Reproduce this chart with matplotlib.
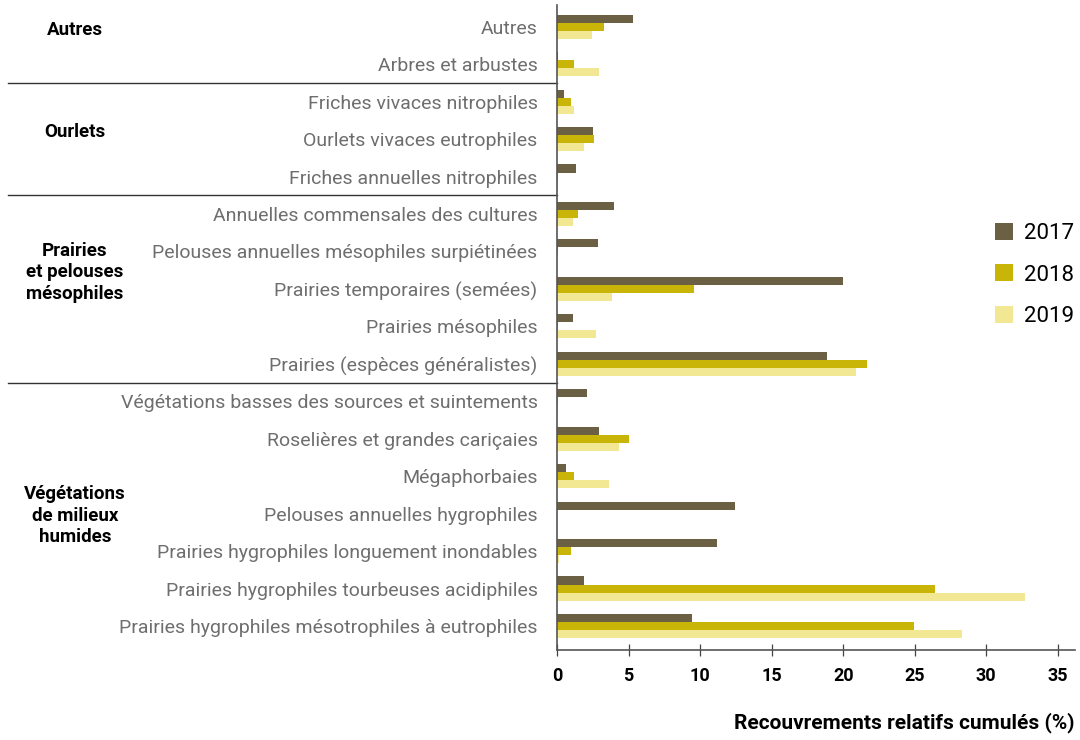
import numpy as np
import matplotlib
matplotlib.use('Agg')
import matplotlib.pyplot as plt
from matplotlib.transforms import blended_transform_factory

plt.rcParams['font.family'] = ['Roboto', 'DejaVu Sans']

# data
categories = [
    'Autres', 'Arbres et arbustes',
    'Friches vivaces nitrophiles', 'Ourlets vivaces eutrophiles', 'Friches annuelles nitrophiles',
    'Annuelles commensales des cultures', 'Pelouses annuelles mésophiles surpiétinées',
    'Prairies temporaires (semées)', 'Prairies mésophiles', 'Prairies (espèces généralistes)',
    'Végétations basses des sources et suintements', 'Roselières et grandes cariçaies',
    'Mégaphorbaies', 'Pelouses annuelles hygrophiles',
    'Prairies hygrophiles longuement inondables', 'Prairies hygrophiles tourbeuses acidiphiles',
    'Prairies hygrophiles mésotrophiles à eutrophiles',
]
v2017 = [5.3, 0.1, 0.5, 2.55, 1.3, 3.95, 2.9, 20.0, 1.1, 18.9,
         2.1, 2.95, 0.65, 12.45, 11.2, 1.9, 9.45]
v2018 = [3.25, 1.2, 0.95, 2.6, 0.08, 1.45, 0.1, 9.55, 0.1, 21.65,
         0.1, 5.0, 1.2, 0.0, 1.0, 26.4, 24.95]
v2019 = [2.45, 2.95, 1.2, 1.9, 0.05, 1.1, 0.0, 3.85, 2.7, 20.9,
         0.05, 4.35, 3.65, 0.0, 0.15, 32.7, 28.3]
years = ['2017', '2018', '2019']
colors = ['#6b6043', '#c8b508', '#f2e893']

groups = ['Autres', 'Ourlets', 'Prairies\net pelouses\nmésophiles', 'Végétations\nde milieux\nhumides']
group_pos = [0.08, 2.8, 6.55, 13.05]
separators = [1.5, 4.5, 9.5]

fig = plt.figure(figsize=(10.8, 7.4), dpi=100)
ax = fig.add_axes([557 / 1080, 1 - 650 / 740, (1075 - 557) / 1080, (650 - 5) / 740])

y = np.arange(len(categories))
h = 0.215
for i, (vals, yr, c) in enumerate(zip([v2017, v2018, v2019], years, colors)):
    ax.barh(y + (i - 1) * h, vals, height=h, color=c, label=yr)

ax.set_ylim(16.64, -0.58)
ax.set_xlim(0, 36.2)
ax.set_yticks(y)
ax.set_yticklabels(categories, fontsize=14, color='#6e6e6e')
ax.tick_params(axis='y', length=0, pad=14)
ax.set_xticks(np.arange(0, 36, 5))
ax.tick_params(axis='x', direction='inout', length=8, width=0.9, color='#444444', pad=8)
for lab in ax.get_xticklabels():
    lab.set_fontweight('bold')
    lab.set_fontsize(13)
for s in ['top', 'right']:
    ax.spines[s].set_visible(False)
for s in ['left', 'bottom']:
    ax.spines[s].set_color('#555555')
    ax.spines[s].set_linewidth(1.2)

# group separators and names left of the category labels
trans = blended_transform_factory(fig.transFigure, ax.transData)
for sep in separators:
    ax.plot([8 / 1080, 557 / 1080], [sep, sep], color='#333333', lw=1,
            clip_on=False, transform=trans)
for g, gy in zip(groups, group_pos):
    ax.text(75 / 1080, gy, g, transform=trans, ha='center', va='center',
            fontsize=13.5, fontweight='bold', linespacing=1.25)

fig.text(1075 / 1080, 1 - 723 / 740, 'Recouvrements relatifs cumulés (%)', ha='right', va='center',
         fontsize=15, fontweight='bold')

fig.legend(loc='center left', bbox_to_anchor=(995 / 1080, 1 - 275 / 740), frameon=False,
           borderpad=0, borderaxespad=0, fontsize=16, handlelength=0.8, handleheight=0.8,
           labelspacing=0.9, handletextpad=0.5)

fig.savefig('out.png', dpi=100)
